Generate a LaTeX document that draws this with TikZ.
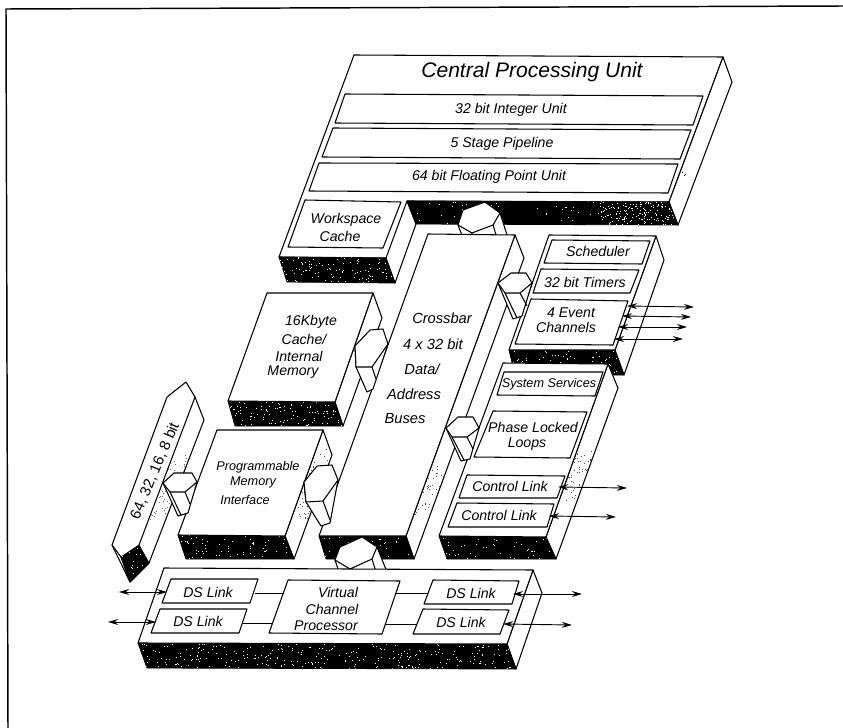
\documentclass[tikz,border=0pt]{standalone}
\usepackage{fontspec}
\setmainfont{Liberation Sans}
\usetikzlibrary{arrows.meta}
\tikzset{
  face/.style={draw=black,fill=white,line width=.8pt,line join=round},
  edge/.style={draw=black,line width=.8pt,line join=round},
  frameline/.style={draw=black,line width=1.1pt},
  lbl/.style={font=\fontsize{10.6}{12}\selectfont\itshape,inner sep=0pt},
  lblbig/.style={font=\fontsize{15.8}{18}\selectfont\itshape,inner sep=0pt},
  lblbar/.style={font=\fontsize{11}{13}\selectfont\itshape,inner sep=0pt},
  lblsmall/.style={font=\fontsize{9.5}{11}\selectfont\itshape,inner sep=0pt},
  dbl/.style={line width=.7pt,{Stealth[length=7.5pt,width=4.4pt]}-{Stealth[length=7.5pt,width=4.4pt]}},
  linkline/.style={line width=.7pt}
}
% #1 colour, #2 x0, #3 y0, #4 x1, #5 y1, #6 number of specks
\newcommand{\specks}[6]{%
  \foreach \i in {1,...,#6}{%
    \pgfmathsetmacro{\ax}{#2+rnd*(#4-#2)}%
    \pgfmathsetmacro{\ay}{#3+rnd*(#5-#3)}%
    \fill[#1] (\ax,\ay) rectangle ++(.8,.8);
  }}
% the same specks, kept inside a closed path (#1); #2 colour, #3-#6 box, #7 number
\newcommand{\specksin}[7]{%
  \begin{scope}\clip #1; \specks{#2}{#3}{#4}{#5}{#6}{#7}\end{scope}}
% #1 closed path, #2-#5 box, #6 number of white specks
\newcommand{\darkface}[6]{%
  \filldraw[black,line width=.6pt,line join=round] #1;
  \specksin{#1}{white}{#2}{#3}{#4}{#5}{#6}}
\begin{document}
\begin{tikzpicture}[x=.75pt,y=-.75pt]
\useasboundingbox (0,0) rectangle (843,728);
\pgfmathsetseed{11}
% frame (only two sides print)
\coordinate (fa) at (8,728); \coordinate (fb) at (6,9); \coordinate (fc) at (843,6);
\draw[frameline] (fa) -- (fb) -- (fc);

% Central Processing Unit
\filldraw[face] (354,55) -- (723,57) -- (669,202) -- (407,201) -- (386,258) -- (279,257) -- cycle;
\filldraw[face] (723,57) -- (732,82) -- (678,225) -- (669,202) -- cycle;
\specksin{(723,57) -- (732,82) -- (678,225) -- (669,202) -- cycle}{black}{660}{60}{732}{225}{12}
\darkface{(407,201) -- (669,202) -- (678,225) -- (416,224) -- cycle}{407}{201}{678}{225}{60}
\specksin{(407,201) -- (669,202) -- (678,225) -- (416,224) -- cycle}{white}{600}{201}{678}{225}{170}
\darkface{(279,257) -- (386,258) -- (395,283) -- (287,282) -- cycle}{279}{257}{395}{283}{110}
\draw[edge] (386,258) -- (395,283) -- (416,224) -- (407,201);
\filldraw[face] (345,94) -- (703,96) -- (693,125) -- (335,123) -- cycle;
\filldraw[face] (333,128) -- (691,130) -- (680,159) -- (322,157) -- cycle;
\filldraw[face] (319,163) -- (678,164) -- (668,193) -- (309,191) -- cycle;
\filldraw[face] (305,200) -- (401,202) -- (383,248) -- (288,247) -- cycle;
\node[lblbig] (cpu) at (532,72) {Central Processing Unit};
\node[lbl] (intu) at (511,110) {32 bit Integer Unit};
\node[lbl] (pipe) at (502,144) {5 Stage Pipeline};
\node[lbl] (fpu) at (489,177) {64 bit Floating Point Unit};
\node[lbl] (ws1) at (346,220) {Workspace};
\node[lbl] (ws2) at (340,236) {Cache};

% connector CPU - crossbar
\filldraw[face] (458,225) -- (463,238) -- (508,238) -- (500,213) -- cycle;
\filldraw[face] (458,225) -- (463,210) -- (485,202) -- (500,213) -- (493,225) -- (472,233) -- cycle;
\draw[edge] (493,225) -- (497,238) (472,233) -- (472,238);

% Crossbar
\filldraw[face] (515,235) -- (524,258) -- (414,559) -- (406,536) -- cycle;
\specksin{(515,235) -- (524,258) -- (414,559) -- (406,536) -- cycle}{black!70}{415}{465}{450}{515}{70}
\darkface{(319,536) -- (406,536) -- (414,559) -- (326,559) -- cycle}{319}{536}{414}{559}{45}
\filldraw[face] (428,234) -- (515,235) -- (406,536) -- (319,536) -- cycle;
\node[lblbar] (xb1) at (442,318) {Crossbar};
\node[lblbar] (xb2) at (433,344) {4 x 32 bit};
\node[lblbar] (xb3) at (422,369) {Data/};
\node[lblbar] (xb4) at (414,394) {Address};
\node[lblbar] (xb5) at (405,419) {Buses};

% Scheduler block
\filldraw[face] (656,236) -- (664,260) -- (624,375) -- (615,350) -- cycle;
\darkface{(509,350) -- (615,350) -- (624,375) -- (515,375) -- cycle}{509}{350}{624}{375}{70}
\filldraw[face] (549,235) -- (656,236) -- (615,350) -- (509,350) -- cycle;
\filldraw[face] (552,240) -- (650,241) -- (642,264) -- (544,263) -- cycle;
\filldraw[face] (541,269) -- (639,270) -- (630,293) -- (533,293) -- cycle;
\filldraw[face] (531,299) -- (628,301) -- (613,345) -- (515,344) -- cycle;
\node[lbl] (sch) at (598,251) {Scheduler};
\node[lbl] (tim) at (585,282) {32 bit Timers};
\node[lbl] (ev1) at (571,313) {4 Event};
\node[lbl] (ev2) at (566,327) {Channels};

% connector crossbar - scheduler block
\filldraw[face] (498,283) -- (513,319) -- (522,316) -- (532,283) -- cycle;
\filldraw[face] (498,283) -- (511,273) -- (526,273) -- (532,283) -- (520,293) -- (505,293) -- cycle;
\draw[edge] (505,293) -- (517,318) (520,293) -- (527,306);

% System block
\filldraw[face] (608,364) -- (618,388) -- (556,559) -- (546,537) -- cycle;
\specksin{(608,364) -- (618,388) -- (556,559) -- (546,537) -- cycle}{black!70}{565}{450}{600}{500}{90}
\darkface{(439,536) -- (546,537) -- (556,559) -- (447,559) -- cycle}{439}{536}{556}{559}{45}
\filldraw[face] (503,363) -- (608,364) -- (546,537) -- (439,536) -- cycle;
\filldraw[face] (504,372) -- (603,372) -- (595,396) -- (497,395) -- cycle;
\filldraw[face] (493,411) -- (587,412) -- (570,458) -- (474,457) -- cycle;
\filldraw[face] (467,475) -- (565,476) -- (557,498) -- (459,498) -- cycle;
\filldraw[face] (457,503) -- (554,504) -- (547,527) -- (448,527) -- cycle;
\node[lblsmall] (sys) at (549,384) {System Services};
\node[lbl] (pll1) at (533,427) {Phase Locked};
\node[lbl] (pll2) at (527,444) {Loops};
\node[lbl] (cl1) at (510,486) {Control Link};
\node[lbl] (cl2) at (499,515) {Control Link};

% connector crossbar - system block
\filldraw[face] (446,428) -- (461,461) -- (470,459) -- (479,428) -- cycle;
\filldraw[face] (446,428) -- (458,417) -- (473,417) -- (479,428) -- (467,437) -- (452,437) -- cycle;
\draw[edge] (452,437) -- (464,460) (467,437) -- (473,449);

% Cache block
\filldraw[face] (373,293) -- (382,318) -- (343,426) -- (335,402) -- cycle;
\darkface{(228,401) -- (335,402) -- (343,426) -- (235,426) -- cycle}{228}{401}{343}{426}{110}
\filldraw[face] (267,293) -- (373,293) -- (335,402) -- (228,401) -- cycle;
\node[lbl] (m1) at (311,322) {16Kbyte};
\node[lbl] (m2) at (304,339) {Cache/};
\node[lbl] (m3) at (299,356) {Internal};
\node[lbl] (m4) at (293,372) {Memory};
% connector cache - crossbar
\filldraw[face] (355,346) -- (356,367) -- (367,392) -- (373,389) -- (388,344) -- cycle;
\filldraw[face] (355,346) -- (370,330) -- (383,329) -- (388,344) -- (372,367) -- (356,367) -- cycle;
\draw[edge] (372,367) -- (376,379);

% Programmable Memory Interface block
\filldraw[face] (323,430) -- (332,455) -- (294,559) -- (285,536) -- cycle;
\specksin{(323,430) -- (332,455) -- (294,559) -- (285,536) -- cycle}{black!70}{295}{440}{330}{520}{110}
\darkface{(178,535) -- (285,536) -- (294,559) -- (186,559) -- cycle}{178}{535}{294}{559}{70}
\filldraw[face] (217,430) -- (323,430) -- (285,536) -- (178,535) -- cycle;
\node[lblsmall] (p1) at (258,467) {Programmable};
\node[lblsmall] (p2) at (253,482) {Memory};
\node[lblsmall] (p3) at (245,500) {Interface};
% connector PMI - crossbar
\filldraw[face] (304,482) -- (306,502) -- (321,526) -- (330,523) -- (338,480) -- cycle;
\filldraw[face] (304,482) -- (317,466) -- (332,465) -- (338,480) -- (323,501) -- (306,502) -- cycle;
\draw[edge] (323,501) -- (330,520);

% Bus width slab
\filldraw[face] (167,397) -- (186,382) -- (195,397) -- (204,420) -- (149,563) -- (130,582) -- (112,545) -- cycle;
\draw[edge] (195,397) -- (139,545);
\draw[edge] (112,545) -- (121,557);
\darkface{(121,557) -- (139,545) -- (149,563) -- (130,582) -- cycle}{121}{545}{149}{582}{30}
\draw[edge] (121,557) -- (130,582);
\specksin{(195,397) -- (204,420) -- (149,563) -- (139,545) -- cycle}{black!60}{150}{455}{190}{520}{140}
\node[font=\fontsize{11.2}{13}\selectfont,inner sep=0pt,rotate=67] (bw) at (155,471) {64, 32, 16, 8 bit};
% connector slab - PMI
\filldraw[face] (163,483) -- (178,516) -- (188,513) -- (197,482) -- cycle;
\filldraw[face] (163,483) -- (174,473) -- (192,473) -- (197,482) -- (185,492) -- (170,492) -- cycle;
\draw[edge] (170,492) -- (181,515) (185,492) -- (190,504);

% connector crossbar - virtual channel
\filldraw[face] (335,560) -- (339,572) -- (387,572) -- (377,547) -- cycle;
\filldraw[face] (335,560) -- (340,547) -- (362,537) -- (377,547) -- (372,559) -- (350,569) -- cycle;
\draw[edge] (372,559) -- (376,572) (350,569) -- (352,572);

% Bottom block
\filldraw[face] (533,570) -- (542,593) -- (516,669) -- (507,644) -- cycle;
\darkface{(138,643) -- (507,644) -- (516,669) -- (147,668) -- cycle}{138}{643}{516}{669}{300}
\filldraw[face] (164,568) -- (533,570) -- (507,644) -- (138,643) -- cycle;
\filldraw[face] (171,579) -- (258,579) -- (250,603) -- (162,603) -- cycle;
\filldraw[face] (160,609) -- (247,609) -- (239,633) -- (151,633) -- cycle;
\filldraw[face] (288,580) -- (400,581) -- (382,634) -- (269,633) -- cycle;
\filldraw[face] (433,580) -- (519,581) -- (512,604) -- (424,604) -- cycle;
\filldraw[face] (423,609) -- (509,610) -- (500,634) -- (413,634) -- cycle;
\node[lbl] (ds1) at (208,592) {DS Link};
\node[lbl] (ds2) at (198,621) {DS Link};
\node[lbl] (ds3) at (471,593) {DS Link};
\node[lbl] (ds4) at (461,622) {DS Link};
\node[lbl] (vc1) at (338,592) {Virtual};
\node[lbl] (vc2) at (332,609) {Channel};
\node[lbl] (vc3) at (326,626) {Processor};

% links inside the bottom block
\coordinate (l1a) at (255,593); \coordinate (l1b) at (284,593);
\coordinate (l2a) at (243,623); \coordinate (l2b) at (273,623);
\coordinate (l3a) at (396,593); \coordinate (l3b) at (428,593);
\coordinate (l4a) at (385,624); \coordinate (l4b) at (417,624);
\draw[linkline] (l1a) -- (l1b);
\draw[linkline] (l2a) -- (l2b);
\draw[linkline] (l3a) -- (l3b);
\draw[linkline] (l4a) -- (l4b);

% external double arrows
\coordinate (a1a) at (119,592); \coordinate (a1b) at (167,592);
\coordinate (a2a) at (108,622); \coordinate (a2b) at (156,622);
\coordinate (a3a) at (513,594); \coordinate (a3b) at (582,594);
\coordinate (a4a) at (503,624); \coordinate (a4b) at (572,625);
\coordinate (e1a) at (627,306); \coordinate (e1b) at (694,307);
\coordinate (e2a) at (622,316); \coordinate (e2b) at (691,317);
\coordinate (e3a) at (618,327); \coordinate (e3b) at (687,327);
\coordinate (e4a) at (614,339); \coordinate (e4b) at (683,339);
\coordinate (c1a) at (558,487); \coordinate (c1b) at (627,488);
\coordinate (c2a) at (549,516); \coordinate (c2b) at (616,517);
\foreach \p in {a1,a2,a3,a4,e1,e2,e3,e4,c1,c2}
  \draw[dbl] (\p a) -- (\p b);
\end{tikzpicture}
\end{document}
